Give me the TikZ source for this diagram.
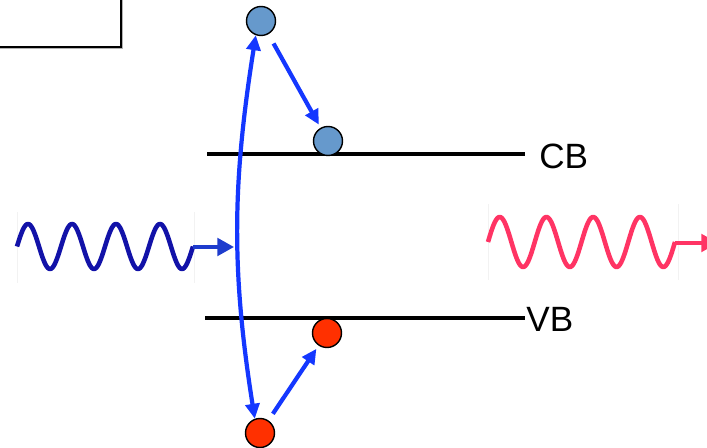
\documentclass[tikz,border=0pt]{standalone}
\usepackage{fontspec}
\setmainfont{Liberation Sans}
\usetikzlibrary{arrows.meta}

\definecolor{arrowblue}{RGB}{20,55,255}
\definecolor{wavenavy}{RGB}{18,18,168}
\definecolor{inarrow}{RGB}{30,60,205}
\definecolor{wavepink}{RGB}{255,52,100}
\definecolor{elecblue}{RGB}{102,153,204}
\definecolor{holered}{RGB}{255,48,0}

\tikzset{
  carrier/.style={circle, draw=black, line width=0.8pt, minimum size=16.5pt, inner sep=0pt},
  transfer/.style={arrowblue, line width=2.4pt, -{Triangle[length=8.5pt, width=8pt]}},
  band/.style={line width=2pt},
  wavepath/.style={line width=2.6pt, line join=round},
}

\begin{document}
\begin{tikzpicture}[x=0.02cm, y=-0.02cm]
\clip (0,0) rectangle (707,448);

% label box top left
\draw[gray!60, line width=1pt] (-5,48.5) -- (122.5,48.5) -- (122.5,-5);
\draw[line width=0.9pt] (-5,-5) rectangle (121,47);

% bands
\draw[band] (207,154) -- (525,154);
\draw[band] (205,318) -- (525,318);
\node[anchor=west, inner sep=0pt, font=\fontsize{20}{23}\selectfont] (cb) at (539,156) {CB};
\node[anchor=west, inner sep=0pt, font=\fontsize{20}{23}\selectfont] (vb) at (526,319) {VB};

% electrons and holes
\node[carrier, fill=elecblue] (up1) at (261,21) {};
\node[carrier, fill=elecblue] (cb1) at (328,141) {};
\node[carrier, fill=holered] (vb1) at (327,333) {};
\node[carrier, fill=holered] (lo2) at (260,433) {};

% excitation and relaxation
\draw[transfer, {Triangle[length=8.5pt, width=8pt]}-{Triangle[length=8.5pt, width=8pt]}] (lo2.110) to[out=99, in=261] (up1.250);
\draw[transfer, shorten <=6pt, shorten >=2pt] (up1) -- (cb1);
\draw[transfer, shorten <=4.5pt, shorten >=2.2pt] (lo2) -- (vb1);

% incoming photon
\draw[gray!10, line width=0.5pt] (17,212) -- (17,283) (194,212) -- (194,283);
\draw[wavepath, wavenavy] plot[domain=17:193, samples=160] (\x, {246.5-22.5*sin((\x-17)/44*360)});
\coordinate (inend) at (193,247);
\coordinate (intip) at (234,247);
\draw[inarrow, line width=2pt, -{Triangle[length=9.5pt, width=10pt]}] (inend) -- (intip);

% emitted photon
\draw[gray!10, line width=0.5pt] (488,204) -- (488,280) (678,204) -- (678,280);
\draw[wavepath, wavepink] plot[domain=488:675, samples=160] (\x, {242-25*sin((\x-488)/46.75*360)});
\coordinate (outend) at (675,243);
\coordinate (outtip) at (718,243);
\draw[wavepink, line width=2pt, -{Triangle[length=9.5pt, width=10pt]}] (outend) -- (outtip);
\end{tikzpicture}
\end{document}
